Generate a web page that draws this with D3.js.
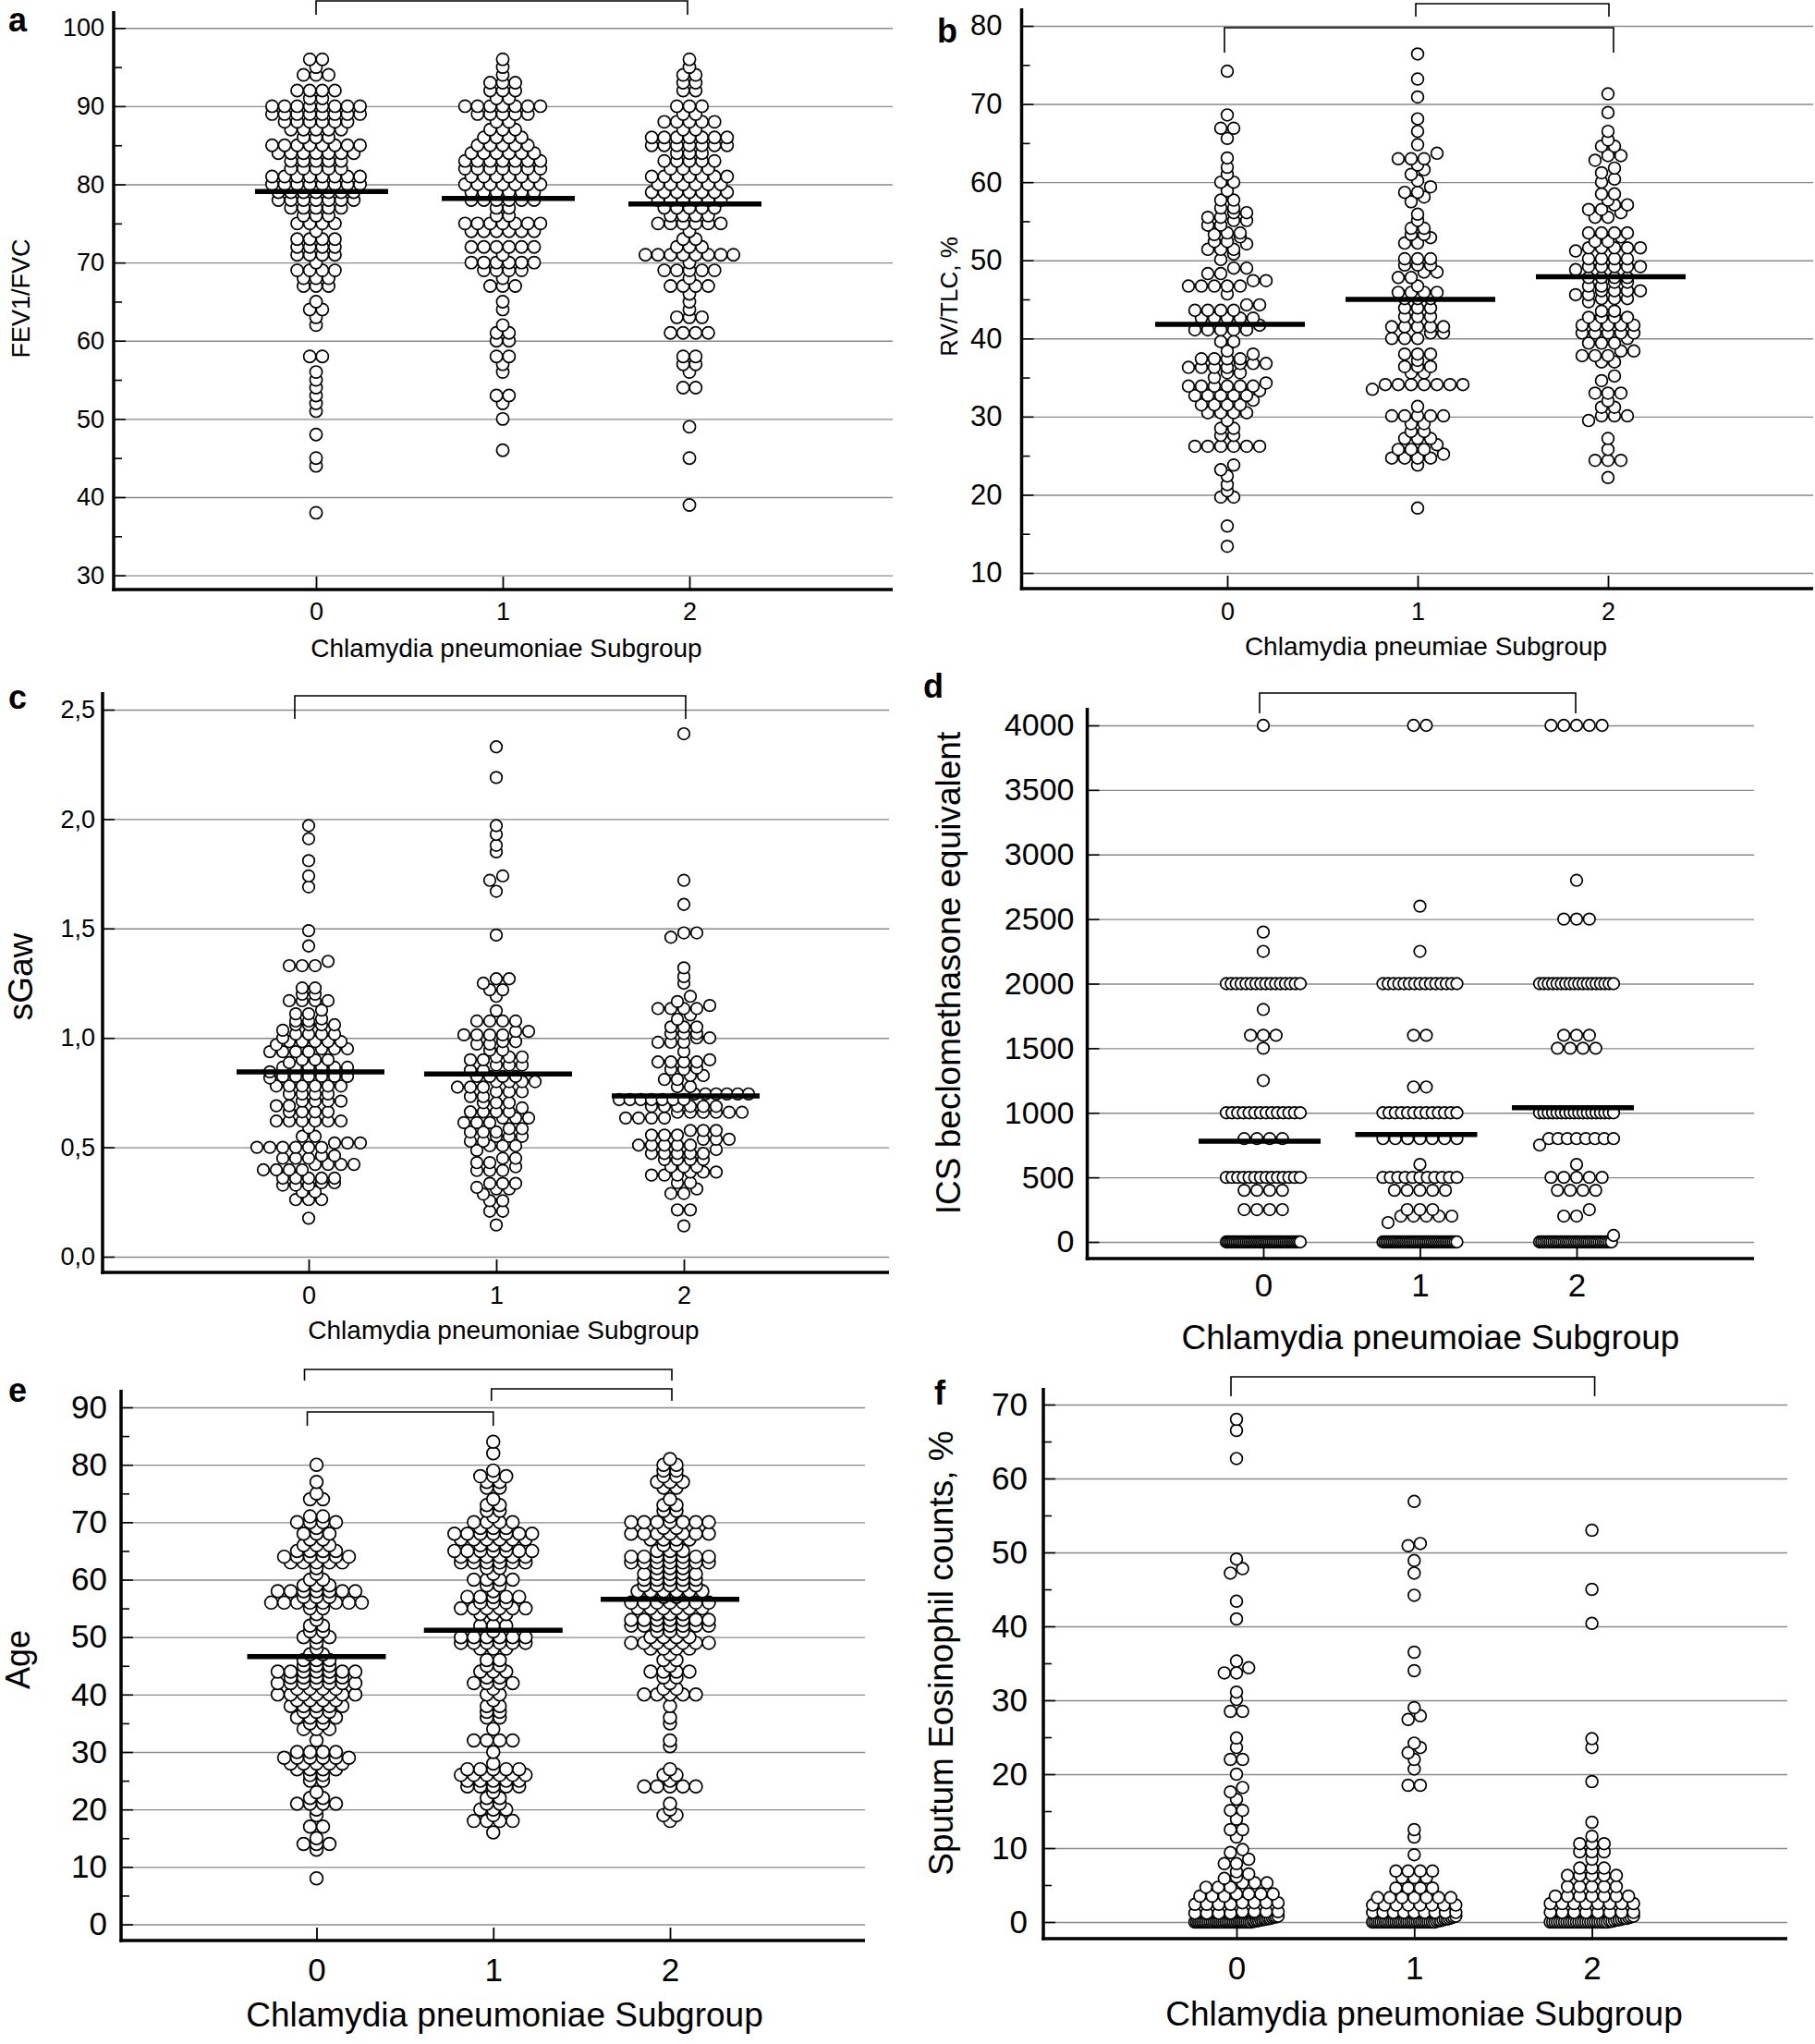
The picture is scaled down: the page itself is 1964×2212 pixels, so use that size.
<!DOCTYPE html>
<html>
<head>
<meta charset="utf-8">
<script src="https://cdn.jsdelivr.net/npm/d3@7"></script>
<style>
  body { margin: 0; background: #fff; }
  svg { display: block; }
  text { font-family: "Liberation Sans", Arial, Helvetica, sans-serif; fill: #000; }
</style>
</head>
<body>
<svg id="chart" width="1964" height="2212"></svg>
<script>
// ---- data: dot rows as [value, count] ----
const groups = ["0", "1", "2"];

// a: FEV1/FVC
const fevG0 = [[96,2],[95,1],[94,3],[92,4],[91,2],[90,8],[89,8],[88,6],[87,5],[86,3],[85,8],[84,7],[83,5],[82,5],[81,8],[80,8],[79,7],[78,7],[77,5],[76,3],[75,4],[74,1],[73,4],[72,4],[71,4],[70,1],[69,4],[68,3],[67,3],[65,1],[64,2],[63,1],[62,1],[58,2],[56,1],[55,1],[54,1],[53,1],[52,1],[51,1],[48,1],[45,1],[44,1],[38,1]];
const fevG1 = [[96,1],[95,1],[94,1],[93,3],[92,3],[91,2],[90,7],[89,5],[88,2],[87,3],[86,4],[85,5],[84,6],[83,7],[82,7],[81,6],[80,7],[79,6],[78,6],[77,2],[76,2],[75,7],[74,6],[72,6],[71,1],[70,6],[69,4],[68,1],[67,3],[65,1],[64,1],[62,1],[61,2],[60,2],[58,2],[57,1],[56,1],[53,2],[52,1],[50,1],[46,1]];
const fevG2 = [[96,1],[95,1],[94,2],[93,2],[92,2],[90,3],[89,2],[88,5],[87,2],[86,7],[85,7],[84,3],[83,5],[82,4],[81,7],[80,6],[79,7],[78,6],[77,5],[76,4],[75,6],[74,1],[73,2],[72,3],[71,8],[70,1],[69,5],[68,1],[67,4],[66,1],[65,1],[64,1],[63,3],[61,4],[58,2],[57,2],[56,1],[54,2],[49,1],[45,1],[39,1]];
const fevMeans = [79.1, 78.2, 77.5];
const fevTicks = [30,40,50,60,70,80,90,100];
const fevMinor = [35,45,55,65,75,85,95];

// b: RV/TLC, %
const rvG0 = [[74.2,1],[68.6,1],[66.9,2],[65.6,1],[63.1,1],[61.9,1],[61.0,1],[60.0,2],[58.9,1],[57.7,2],[56.7,2],[56.1,2],[55.5,2],[55.1,2],[54.5,2],[53.5,2],[53.3,1],[53.0,1],[52.4,2],[52.1,1],[51.4,3],[50.8,1],[50.1,1],[49.0,2],[48.3,2],[47.4,2],[46.7,5],[45.7,1],[44.3,2],[43.6,4],[42.6,5],[41.7,1],[41.1,5],[39.6,2],[38.4,1],[38.0,1],[37.4,4],[36.8,3],[36.3,4],[35.6,2],[35.0,1],[34.3,1],[33.9,6],[33.3,1],[32.7,5],[32.1,1],[31.5,4],[30.5,4],[29.5,1],[28.5,2],[27.6,2],[26.2,6],[23.8,1],[23.2,1],[22.4,1],[21.3,1],[20.5,1],[19.7,2],[16.0,1],[13.4,1]];
const rvG1 = [[76.4,1],[73.2,1],[70.9,1],[68.1,1],[66.5,1],[64.8,1],[63.7,1],[63.0,3],[62.2,1],[61.6,1],[61.0,1],[60.2,1],[59.4,1],[58.7,2],[58.1,1],[57.5,1],[55.9,1],[55.1,1],[54.1,2],[53.3,2],[52.9,1],[52.2,2],[50.2,3],[49.4,3],[48.5,2],[47.8,2],[46.7,1],[45.9,4],[45.1,3],[43.9,3],[42.8,3],[41.5,5],[40.7,2],[40.0,3],[38.0,3],[37.2,1],[36.4,3],[35.6,2],[34.1,7],[33.5,1],[31.3,1],[30.1,5],[29.1,2],[28.1,2],[27.2,3],[26.4,1],[25.8,3],[25.2,1],[24.7,4],[23.8,1],[18.3,1]];
const rvG2 = [[71.3,1],[68.9,1],[66.5,1],[65.4,1],[64.6,2],[63.4,2],[62.8,1],[61.8,1],[61.2,1],[60.4,1],[60.0,1],[58.5,2],[57.7,1],[57.1,2],[56.5,2],[56.1,1],[55.5,2],[53.5,4],[53.0,1],[52.4,2],[51.6,5],[51.2,1],[50.2,4],[49.2,5],[48.8,1],[47.8,4],[47.2,2],[46.7,2],[46.1,4],[45.6,2],[45.1,3],[44.7,1],[43.5,2],[42.7,4],[41.7,5],[40.7,5],[40.0,1],[39.4,3],[38.4,2],[37.8,3],[37.0,2],[35.2,1],[34.6,1],[33.0,3],[32.0,1],[31.2,2],[30.1,3],[29.5,1],[27.2,1],[25.8,1],[24.4,3],[22.2,1]];
const rvMeans = [41.8, 45.0, 47.9];
const rvTicks = [10,20,30,40,50,60,70,80];
const rvMinor = [15,25,35,45,55,65,75];

// c: sGaw
const sgG0 = [[1.97,1],[1.91,1],[1.81,1],[1.74,1],[1.69,1],[1.49,1],[1.42,1],[1.35,1],[1.33,3],[1.228,2],[1.20,2],[1.17,4],[1.127,1],[1.11,2],[1.087,1],[1.077,2],[1.06,4],[1.035,1],[1.017,4],[1.0,1],[0.983,5],[0.969,1],[0.95,3],[0.937,4],[0.90,3],[0.887,1],[0.866,6],[0.845,1],[0.824,6],[0.817,1],[0.78,6],[0.744,4],[0.711,4],[0.69,2],[0.662,4],[0.62,6],[0.59,1],[0.55,2],[0.52,3],[0.5,6],[0.462,2],[0.45,3],[0.422,4],[0.397,4],[0.359,5],[0.338,2],[0.327,3],[0.296,2],[0.261,3],[0.176,1]];
const sgG1 = [[2.33,1],[2.19,1],[1.97,1],[1.93,1],[1.88,1],[1.85,1],[1.74,1],[1.72,1],[1.67,1],[1.47,1],[1.27,2],[1.25,1],[1.22,2],[1.19,1],[1.124,1],[1.077,4],[1.03,2],[1.014,4],[0.983,2],[0.972,2],[0.944,2],[0.913,3],[0.9,2],[0.876,3],[0.852,2],[0.824,4],[0.80,4],[0.775,3],[0.754,3],[0.732,2],[0.704,3],[0.68,1],[0.662,4],[0.634,3],[0.613,3],[0.585,2],[0.570,3],[0.55,3],[0.528,2],[0.507,3],[0.486,1],[0.45,2],[0.43,2],[0.411,1],[0.394,3],[0.335,3],[0.317,1],[0.31,2],[0.286,1],[0.256,2],[0.208,2],[0.145,1]];
const sgG2 = [[2.39,1],[1.72,1],[1.61,1],[1.48,2],[1.46,1],[1.32,1],[1.28,1],[1.25,1],[1.19,1],[1.166,1],[1.148,1],[1.134,4],[1.105,1],[1.085,1],[1.05,3],[1.02,3],[1.0,2],[0.98,3],[0.937,1],[0.90,1],[0.89,4],[0.862,1],[0.856,2],[0.828,2],[0.81,2],[0.777,2],[0.744,6],[0.718,7],[0.687,6],[0.66,6],[0.634,4],[0.577,3],[0.556,3],[0.537,3],[0.51,5],[0.49,1],[0.472,5],[0.444,4],[0.411,3],[0.387,3],[0.373,3],[0.338,2],[0.31,1],[0.289,2],[0.214,2],[0.141,1]];
const sgMeans = [0.845, 0.835, 0.735];
const sgTicks = [0, 0.5, 1.0, 1.5, 2.0, 2.5];

// d: ICS beclomethasone equivalent
const icsG0 = [[4000,1],[2400,1],[2250,1],[2000,16],[1800,1],[1600,3],[1500,1],[1250,1],[1000,14],[800,4],[500,14],[400,4],[250,4],[0,42]];
const icsG1 = [[4000,2],[2600,1],[2250,1],[2000,15],[1600,2],[1200,2],[1000,13],[800,7],[600,1],[500,11],[400,5],[250,3],[200,5],[150,1],[0,40]];
const icsG2 = [[4000,5],[2800,1],[2500,3],[2000,18],[1600,3],[1500,4],[1000,18],[800,8],[750,1],[600,1],[500,5],[400,4],[250,1],[200,2],[50,1],[0,36]];
const icsMeans = [780, 832, 1040];
const icsTicks = [0,500,1000,1500,2000,2500,3000,3500,4000];

// e: Age
const ageG0 = [[80,1],[77,1],[75,1],[74,2],[71,2],[70,4],[69,1],[68,3],[67,2],[66,3],[65,4],[64,6],[63,5],[62,1],[61,1],[60,2],[59,3],[58,7],[57,3],[56,8],[55,2],[54,1],[53,1],[52,2],[51,2],[50,3],[49,1],[48,1],[47,2],[46,3],[45,3],[44,7],[43,5],[42,7],[41,4],[40,7],[39,4],[38,5],[37,3],[36,4],[35,2],[34,3],[32,1],[30,4],[29,6],[28,5],[27,4],[26,2],[25,2],[23,1],[22,2],[21,4],[20,1],[19,1],[17,2],[15,1],[14,3],[13,1],[8,1]];
const ageG1 = [[84,1],[82,1],[79,1],[78,3],[77,2],[76,2],[74,1],[73,2],[72,2],[71,1],[70,4],[69,3],[68,7],[67,6],[66,3],[65,7],[64,6],[63,6],[62,2],[61,1],[60,4],[59,2],[58,1],[57,5],[56,3],[55,6],[54,3],[52,3],[51,1],[50,6],[49,6],[48,3],[46,2],[45,2],[44,3],[43,2],[42,4],[41,1],[40,2],[39,1],[38,2],[37,2],[36,2],[34,1],[32,4],[30,1],[28,1],[27,5],[26,6],[25,5],[24,5],[23,1],[22,2],[21,2],[20,3],[19,1],[18,4],[16,1]];
const ageG2 = [[81,1],[80,2],[79,2],[78,2],[77,3],[76,2],[74,1],[73,2],[72,2],[71,1],[70,7],[69,2],[68,7],[67,4],[66,2],[65,3],[64,7],[63,7],[62,3],[61,5],[60,5],[59,5],[58,6],[57,2],[56,7],[55,6],[54,3],[53,7],[52,7],[51,3],[50,4],[49,7],[48,4],[47,1],[46,2],[45,1],[44,4],[43,2],[42,1],[41,2],[40,5],[38,1],[36,1],[35,1],[32,1],[31,1],[27,1],[26,2],[25,1],[24,5],[21,1],[20,1],[19,2],[18,1]];
const ageMeans = [46.6, 51.2, 56.6];
const ageTicks = [0,10,20,30,40,50,60,70,80,90];
const ageMinor = [5,15,25,35,45,55,65,75,85];

// f: Sputum Eosinophil counts, %
const eosG0 = [[68,1],[66.5,1],[62.7,1],[49.1,1],[47.8,1],[47.2,1],[43.4,1],[41,1],[35.3,1],[34.4,1],[33.7,2],[31.1,1],[30.1,1],[28.5,2],[24.9,1],[23.6,1],[22,2],[20,1],[18.2,1],[17.6,1],[16.6,1],[15.1,2],[13.9,1],[12.5,2],[11.5,1],[9.8,1],[9.4,1],[8.5,1],[7.9,2],[6.8,1],[6.5,1],[6.1,1],[5.9,1],[5.3,3],[4.7,3],[3.8,4],[3.5,3],[2.6,4],[2.4,4],[1.4,4],[1.2,4],[0.8,1],[0.7,2],[0.6,1],[0.5,2],[0.4,2],[0.3,2],[0.2,2],[0.1,2],[0,30]];
const eosG1 = [[56.9,1],[51.2,1],[50.9,1],[48.9,1],[47.2,1],[44.2,1],[36.5,1],[34,1],[29,1],[27.9,1],[27.4,1],[24.2,1],[23.6,1],[22.9,1],[22,1],[20.7,1],[18.5,2],[12.5,1],[11.5,1],[9.1,1],[6.9,4],[6.0,3],[4.6,4],[3.3,7],[2.3,8],[1.3,9],[0.8,1],[0.7,1],[0.6,1],[0.5,1],[0.4,2],[0.3,1],[0.2,2],[0.1,1],[0,30]];
const eosG2 = [[53,1],[45,1],[40.4,1],[24.8,1],[23.6,1],[19,1],[13.5,1],[11.6,1],[10.6,3],[9.5,3],[8.5,1],[7.3,3],[6.3,5],[4.8,5],[3.5,7],[2.5,8],[1.3,8],[0.8,1],[0.7,1],[0.6,1],[0.5,2],[0.4,1],[0.3,2],[0.2,1],[0.1,2],[0,25]];
const eosTicks = [0,10,20,30,40,50,60,70];
const eosMinor = [5,15,25,35,45,55,65];

// ---- drawing ----
const svg = d3.select('#chart');
const commaFmt = d3.formatLocale({decimal: ',', thousands: '.', grouping: [3], currency: ['', '']}).format('.1f');
const intFmt = d3.format('d');

const panels = [
  {letter:'a', data:[fevG0,fevG1,fevG2], means:fevMeans, ticks:fevTicks, minor:fevMinor, fmt:intFmt,
   yDom:[30,100], yRange:[622.6,30.3], ax:123, top:12, base:638, right:966, cats:[342,746],
   r:6.6, step:13.6, bin:6, maxHalf:70, tickFont:27, xTickFont:27, labelGap:10, xPad:14,
   title:'Chlamydia pneumoniae Subgroup', titleFont:28, titleX:548, titleY:711,
   yTitle:'FEV1/FVC', yTitleFont:27, yTitleX:23, yTitleY:323, letterX:9, letterY:34,
   meanHalf:72, meanOff:6, brackets:[{a:0,b:2,dx1:0,dx2:-2,y:1,leg:16}]},
  {letter:'b', data:[rvG0,rvG1,rvG2], means:rvMeans, ticks:rvTicks, minor:rvMinor, fmt:intFmt,
   yDom:[10,80], yRange:[620,28], ax:1105.5, top:9, base:637, right:1962, cats:[1328,1740],
   r:6.4, step:14, bin:6.5, maxHalf:70, tickFont:31, xTickFont:27, labelGap:21, xPad:15,
   title:'Chlamydia pneumiae Subgroup', titleFont:28, titleX:1543, titleY:709,
   yTitle:'RV/TLC, %', yTitleFont:26, yTitleX:1027, yTitleY:321, letterX:1014, letterY:46,
   meanHalf:81, meanOff:3, brackets:[{a:0,b:2,dx1:-3,dx2:6,y:30,leg:57},{a:1,b:2,dx1:-2,dx2:1,y:4,leg:18}]},
  {letter:'c', data:[sgG0,sgG1,sgG2], means:sgMeans, ticks:sgTicks, minor:[], fmt:commaFmt,
   yDom:[0,2.5], yRange:[1360,768], ax:111, top:749, base:1377, right:962, cats:[334,740],
   r:6.3, step:14, bin:6.5, maxHalf:70, tickFont:27, xTickFont:27, labelGap:8, xPad:15,
   title:'Chlamydia pneumoniae Subgroup', titleFont:28, titleX:545, titleY:1449,
   yTitle:'sGaw', yTitleFont:37, yTitleX:22, yTitleY:1057, letterX:9, letterY:767,
   meanHalf:80, meanOff:2, brackets:[{a:0,b:2,dx1:-15,dx2:2,y:753,leg:778}]},
  {letter:'d', data:[icsG0,icsG1,icsG2], means:icsMeans, ticks:icsTicks, minor:[], fmt:intFmt,
   yDom:[0,4000], yRange:[1344,785], ax:1176.5, top:766, base:1362, right:1898, cats:[1367,1706],
   r:6.3, step:13.8, bin:8, maxHalf:40, tickFont:34, xTickFont:35, labelGap:14, xPad:16,
   title:'Chlamydia pneumoiae Subgroup', titleFont:37, titleX:1548, titleY:1460,
   yTitle:'ICS beclomethasone equivalent', yTitleFont:37, yTitleX:1026, yTitleY:1053, letterX:999, letterY:755,
   meanHalf:66, meanOff:-4, brackets:[{a:0,b:2,dx1:-4,dx2:-1,y:750,leg:772}]},
  {letter:'e', data:[ageG0,ageG1,ageG2], means:ageMeans, ticks:ageTicks, minor:ageMinor, fmt:intFmt,
   yDom:[0,90], yRange:[2082.5,1523], ax:131, top:1504, base:2100, right:936, cats:[342.5,725],
   r:6.9, step:14, bin:6, maxHalf:70, tickFont:35, xTickFont:35, labelGap:15, xPad:19,
   title:'Chlamydia pneumoniae Subgroup', titleFont:37, titleX:546, titleY:2193,
   yTitle:'Age', yTitleFont:36, yTitleX:19, yTitleY:1796, letterX:9, letterY:1517,
   meanHalf:75, meanOff:0,
   brackets:[{a:0,b:2,dx1:-13,dx2:2,y:1482,leg:1494},{a:1,b:2,dx1:-2,dx2:2,y:1503,leg:1516},{a:0,b:1,dx1:-10,dx2:0,y:1528,leg:1543}]},
  {letter:'f', data:[eosG0,eosG1,eosG2], means:null, ticks:eosTicks, minor:eosMinor, fmt:intFmt,
   yDom:[0,70], yRange:[2080,1520], ax:1129, top:1502, base:2098, right:1934, cats:[1338,1722.6],
   r:6.4, step:13.2, bin:7, maxHalf:45, tickFont:35, xTickFont:35, labelGap:17, xPad:19,
   title:'Chlamydia pneumoniae Subgroup', titleFont:37, titleX:1541, titleY:2192,
   yTitle:'Sputum Eosinophil counts, %', yTitleFont:37, yTitleX:1018, yTitleY:1789, letterX:1011, letterY:1520,
   meanHalf:0, meanOff:0, brackets:[{a:0,b:2,dx1:-6,dx2:3,y:1490,leg:1511}]}
];

function expand(pairs) {
  const out = [];
  pairs.forEach(([v, n]) => { for (let i = 0; i < n; i++) out.push(v); });
  return out;
}

// dot rows: values falling in one bin share a centred row, sorted left to right
function layoutDots(vals, y, cx, p) {
  const s = vals.slice().sort((a, b) => a - b);
  const pts = [];
  let i = 0;
  while (i < s.length) {
    const y0 = y(s[i]);
    let j = i;
    while (j < s.length && y0 - y(s[j]) < p.bin) j++;
    const n = j - i;
    const sp = n > 1 ? Math.min(p.step, 2 * p.maxHalf / (n - 1)) : 0;
    for (let k = 0; k < n; k++) pts.push({x: cx + (k - (n - 1) / 2) * sp, y: y(s[i + k])});
    i = j;
  }
  return pts;
}

function drawPanel(p) {
  const g = svg.append('g');
  const y = d3.scaleLinear().domain(p.yDom).range(p.yRange);
  const x = d3.scaleLinear().domain([0, 2]).range(p.cats);

  // grid lines
  g.append('g').attr('transform', `translate(${p.ax},0)`)
    .call(d3.axisLeft(y).tickValues(p.ticks).tickSize(-(p.right - p.ax)).tickFormat(''))
    .call(a => a.select('.domain').remove())
    .call(a => a.selectAll('line').attr('stroke', '#8a8a8a').attr('stroke-width', 1.4));

  // dots
  p.data.forEach((pairs, gi) => {
    const pts = layoutDots(expand(pairs), y, x(gi), p);
    g.append('g').selectAll('circle').data(pts).join('circle')
      .attr('cx', d => d.x).attr('cy', d => d.y).attr('r', p.r)
      .attr('fill', '#fff').attr('stroke', '#000').attr('stroke-width', 1.7);
  });

  // means
  if (p.means) {
    g.append('g').selectAll('line').data(p.means).join('line')
      .attr('x1', (d, i) => x(i) + p.meanOff - p.meanHalf)
      .attr('x2', (d, i) => x(i) + p.meanOff + p.meanHalf)
      .attr('y1', d => y(d)).attr('y2', d => y(d))
      .attr('stroke', '#000').attr('stroke-width', 5.5);
  }

  // y ticks and labels
  g.append('g').attr('transform', `translate(${p.ax},0)`)
    .call(d3.axisLeft(y).tickValues(p.ticks).tickSize(-13).tickPadding(p.labelGap).tickFormat(p.fmt))
    .call(a => a.select('.domain').remove())
    .call(a => a.selectAll('line').attr('stroke', '#000').attr('stroke-width', 1.6))
    .call(a => a.selectAll('text').attr('font-size', p.tickFont)
      .attr('font-family', '"Liberation Sans", Arial, sans-serif').attr('fill', '#000'));
  if (p.minor.length) {
    g.append('g').attr('transform', `translate(${p.ax},0)`)
      .call(d3.axisLeft(y).tickValues(p.minor).tickSize(-9).tickFormat(''))
      .call(a => a.select('.domain').remove())
      .call(a => a.selectAll('line').attr('stroke', '#000').attr('stroke-width', 1.6));
  }

  // x ticks and labels
  g.append('g').attr('transform', `translate(0,${p.base})`)
    .call(d3.axisBottom(x).tickValues([0, 1, 2]).tickSize(-14).tickPadding(p.xPad).tickFormat(i => groups[i]))
    .call(a => a.select('.domain').remove())
    .call(a => a.selectAll('line').attr('stroke', '#000').attr('stroke-width', 1.8))
    .call(a => a.selectAll('text').attr('font-size', p.xTickFont)
      .attr('font-family', '"Liberation Sans", Arial, sans-serif').attr('fill', '#000'));

  // axis lines
  g.append('line').attr('x1', p.ax).attr('x2', p.ax).attr('y1', p.top).attr('y2', p.base + 1.75)
    .attr('stroke', '#000').attr('stroke-width', 3.5);
  g.append('line').attr('x1', p.ax - 1.75).attr('x2', p.right).attr('y1', p.base).attr('y2', p.base)
    .attr('stroke', '#000').attr('stroke-width', 3.5);

  // significance brackets
  p.brackets.forEach(b => {
    const x1 = x(b.a) + b.dx1, x2 = x(b.b) + b.dx2;
    g.append('path')
      .attr('d', `M${x1},${b.leg}V${b.y}H${x2}V${b.leg}`)
      .attr('fill', 'none').attr('stroke', '#000').attr('stroke-width', 1.6);
  });

  // titles
  g.append('text').attr('x', p.titleX).attr('y', p.titleY).attr('text-anchor', 'middle')
    .attr('font-size', p.titleFont).text(p.title);
  g.append('text').attr('transform', `translate(${p.yTitleX},${p.yTitleY}) rotate(-90)`)
    .attr('text-anchor', 'middle').attr('dominant-baseline', 'central')
    .attr('font-size', p.yTitleFont).text(p.yTitle);
  g.append('text').attr('x', p.letterX).attr('y', p.letterY)
    .attr('font-size', 36).attr('font-weight', 'bold').text(p.letter);
}

panels.forEach(drawPanel);
</script>
</body>
</html>
